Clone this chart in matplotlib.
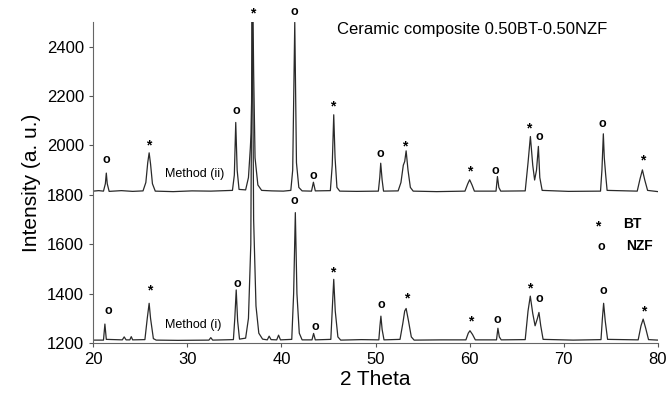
import matplotlib
matplotlib.use('Agg')
import matplotlib.pyplot as plt
import numpy as np

plt.rcParams['font.family'] = ['Liberation Sans', 'DejaVu Sans']

# pattern, (2 theta, intensity) points
method_ii = [(20.0, 1815), (20.6, 1817), (21.1, 1815), (21.3, 1845), (21.4, 1888), (21.5, 1845),
             (21.7, 1814), (23.0, 1817), (24.2, 1814), (25.3, 1816), (25.6, 1850), (25.8, 1930),
             (25.95, 1970), (26.1, 1925), (26.3, 1845), (26.6, 1815), (28.5, 1813), (30.5, 1816),
             (32.5, 1815), (34.8, 1818), (35.0, 1880), (35.15, 2093), (35.3, 1900), (35.5, 1822),
             (36.2, 1820), (36.5, 1870), (36.7, 1990), (36.78, 2050), (36.85, 2200), (36.95, 2650),
             (37.05, 2300), (37.2, 1950), (37.5, 1840), (37.9, 1818), (39.0, 1816), (40.2, 1815),
             (41.0, 1818), (41.2, 1900), (41.42, 2498), (41.6, 1930), (41.85, 1830), (42.2, 1816),
             (43.2, 1815), (43.4, 1851), (43.6, 1816), (45.2, 1817), (45.4, 1920), (45.56, 2124),
             (45.7, 1950), (45.9, 1830), (46.2, 1815), (48.0, 1814), (50.3, 1815), (50.45, 1870),
             (50.55, 1928), (50.7, 1860), (50.85, 1815), (52.4, 1816), (52.7, 1850), (52.95, 1920),
             (53.1, 1935), (53.25, 1978), (53.45, 1900), (53.7, 1830), (54.0, 1815), (56.5, 1813),
             (59.5, 1815), (59.8, 1845), (60.0, 1861), (60.25, 1840), (60.5, 1815), (62.8, 1815),
             (62.95, 1874), (63.1, 1830), (63.3, 1815), (65.9, 1816), (66.2, 1930), (66.45, 2036),
             (66.7, 1920), (66.9, 1860), (67.1, 1900), (67.3, 1996), (67.45, 1870), (67.7, 1818),
             (70.5, 1814), (73.9, 1815), (74.05, 1900), (74.2, 2047), (74.3, 1950), (74.45, 1880),
             (74.6, 1818), (77.8, 1815), (78.1, 1865), (78.35, 1901), (78.6, 1860), (78.9, 1818),
             (80.0, 1813)]

method_i = [(20.0, 1212), (21.1, 1212), (21.25, 1277), (21.4, 1215), (23.1, 1213), (23.3, 1225),
            (23.5, 1213), (23.9, 1213), (24.05, 1226), (24.2, 1213), (25.5, 1214), (25.75, 1300),
            (25.95, 1361), (26.1, 1300), (26.4, 1218), (26.7, 1212), (29.0, 1211), (32.3, 1212),
            (32.5, 1222), (32.7, 1212), (34.9, 1214), (35.05, 1300), (35.2, 1415), (35.35, 1290),
            (35.55, 1216), (36.2, 1220), (36.5, 1300), (36.75, 1600), (36.9, 2650), (37.05, 1700),
            (37.3, 1350), (37.6, 1240), (38.0, 1216), (38.5, 1213), (38.7, 1228), (38.9, 1214),
            (39.5, 1213), (39.7, 1232), (39.9, 1213), (41.1, 1215), (41.3, 1400), (41.48, 1728),
            (41.65, 1400), (41.9, 1240), (42.2, 1213), (43.25, 1213), (43.42, 1239), (43.6, 1213),
            (45.25, 1215), (45.42, 1350), (45.56, 1458), (45.72, 1330), (46.0, 1225), (46.3, 1212),
            (48.5, 1214), (50.35, 1213), (50.47, 1270), (50.57, 1309), (50.7, 1255), (50.9, 1213),
            (52.6, 1215), (52.9, 1280), (53.1, 1330), (53.25, 1340), (53.5, 1290), (53.8, 1225),
            (54.1, 1212), (57.0, 1213), (59.6, 1213), (59.85, 1240), (60.03, 1250), (60.3, 1235),
            (60.6, 1213), (62.85, 1213), (63.0, 1260), (63.15, 1225), (63.35, 1213), (65.9, 1214),
            (66.2, 1330), (66.44, 1390), (66.7, 1320), (66.95, 1270), (67.2, 1300), (67.36, 1324),
            (67.55, 1270), (67.8, 1215), (71.0, 1212), (73.95, 1214), (74.1, 1300), (74.23, 1361),
            (74.4, 1290), (74.65, 1215), (77.9, 1213), (78.2, 1270), (78.43, 1297), (78.7, 1260),
            (79.0, 1214), (80.0, 1212)]

# phase marks above the peaks: (2 theta, intensity, symbol)
marks_ii = [(21.45, 1942, 'o'), (25.95, 2011, '*'), (35.26, 2140, 'o'), (37.0, 2546, '*'),
            (41.42, 2539, 'o'), (43.4, 1877, 'o'), (45.4, 2169, '*'), (50.47, 1966, 'o'),
            (53.13, 2007, '*'), (59.96, 1905, '*'), (62.76, 1898, 'o'), (66.26, 2080, '*'),
            (67.4, 2035, 'o'), (74.05, 2085, 'o'), (78.37, 1951, '*')]
marks_i = [(21.6, 1331, 'o'), (25.98, 1424, '*'), (35.32, 1440, 'o'), (41.37, 1776, 'o'),
           (43.57, 1264, 'o'), (45.4, 1496, '*'), (50.57, 1354, 'o'), (53.35, 1391, '*'),
           (60.1, 1300, '*'), (62.94, 1292, 'o'), (66.4, 1432, '*'), (67.4, 1380, 'o'),
           (74.23, 1412, 'o'), (78.5, 1338, '*')]

fig = plt.figure(figsize=(6.7, 3.98), dpi=100)
ax = fig.add_axes([0.139, 0.138, 0.843, 0.807])

for pts in (method_ii, method_i):
    x, y = np.array(pts).T
    ax.plot(x, y, color='#2a2a2a', lw=0.9)

for x, y, s in marks_ii + marks_i:
    if s == 'o':
        ax.text(x, y, 'o', fontsize=9, fontweight='bold', ha='center', va='center', clip_on=False)
    else:
        ax.text(x, y - 12, '*', fontsize=10, fontweight='bold', ha='center', va='center', clip_on=False)

ax.text(30.8, 1885, 'Method (ii)', fontsize=9, ha='center', va='center')
ax.text(30.6, 1275, 'Method (i)', fontsize=9, ha='center', va='center')
ax.text(45.9, 2469, 'Ceramic composite 0.50BT-0.50NZF', fontsize=12, ha='left', va='center')

# legend written by hand like the original
ax.text(73.6, 1670, '*', fontsize=10, fontweight='bold', ha='center', va='center')
ax.text(76.3, 1683, 'BT', fontsize=10, fontweight='bold', ha='left', va='center')
ax.text(74.0, 1588, 'o', fontsize=9, fontweight='bold', ha='center', va='center')
ax.text(76.6, 1592, 'NZF', fontsize=10, fontweight='bold', ha='left', va='center')

ax.set_xlim(20, 80)
ax.set_ylim(1200, 2500)
ax.set_xticks(np.arange(20, 81, 10))
ax.set_yticks(np.arange(1200, 2401, 200))
ax.tick_params(labelsize=12, length=3, color='#555555')
for side in ('top', 'right'):
    ax.spines[side].set_visible(False)
for side in ('left', 'bottom'):
    ax.spines[side].set_color('#666666')

ax.set_xlabel('2 Theta', fontsize=15, labelpad=2)
ax.set_ylabel('Intensity (a. u.)', fontsize=15, labelpad=4)

plt.savefig('out.png', dpi=100)
